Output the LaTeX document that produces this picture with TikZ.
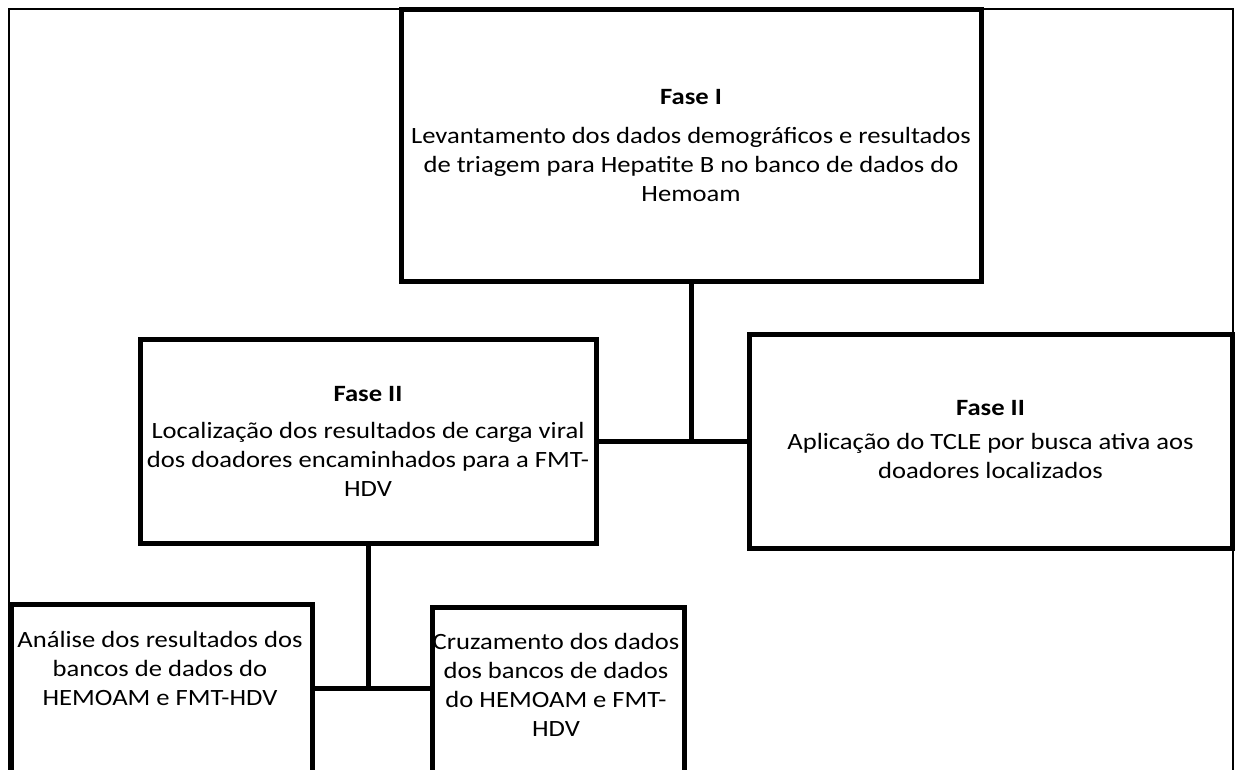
\documentclass[tikz,border=0pt]{standalone}
\usepackage{fontspec}
\setmainfont{Carlito}[FakeStretch=1.14]
\newcommand\diagfont{\fontsize{17.5}{21.75}\selectfont}
\begin{document}
\begin{tikzpicture}[x=0.75pt,y=-0.75pt,
  box/.style={draw=black, line width=3.75pt, fill=white, inner sep=0pt, align=center, font=\diagfont},
  txt/.style={inner sep=0pt, align=center, font=\diagfont},
  conn/.style={draw=black, line width=3.75pt},
  frame/.style={draw=black, line width=1.5pt}]
\useasboundingbox (0,0) rectangle (1235,770);
% outer frame
\draw[frame] (9,1000) -- (9,9) -- (1233,9) -- (1233,1000);
% boxes
\node[box, minimum width=435pt, minimum height=203.25pt] (top) at (691,145.5)
  {\textbf{Fase I}\\[7pt]Levantamento dos dados demográficos e resultados\\de triagem para Hepatite B no banco de dados do\\Hemoam};
\node[box, minimum width=342pt, minimum height=153pt] (left) at (368,441)
  {\textbf{Fase II}\\[6pt]Localização dos resultados de carga viral\\dos doadores encaminhados para a FMT-\\HDV};
\node[box, minimum width=362.25pt, minimum height=160.5pt] (right) at (990.5,441)
  {\raisebox{3pt}{\begin{tabular}{@{}c@{}}\textbf{Fase II}\\[4pt]Aplicação do TCLE por busca ativa aos\\doadores localizados\end{tabular}}};
\node[box, minimum width=225.75pt, minimum height=225pt, anchor=north west] (bl) at (9,602) {};
\node[box, minimum width=189pt, minimum height=225pt, anchor=north west] (br) at (430,605) {};
\node[txt] (blt) at (160,668) {Análise dos resultados dos\\bancos de dados do\\HEMOAM e FMT-HDV};
\node[txt] (brt) at (556,685) {Cruzamento dos dados\\dos bancos de dados\\do HEMOAM e FMT-\\HDV};
% connectors
\coordinate (j1) at (top.south |- right.west);
\draw[conn] (top.south) -- (j1);
\draw[conn] (left.east) -- (right.west);
\coordinate (j2) at (368,688);
\draw[conn] (left.south) -- (j2);
\draw[conn] (bl.east |- j2) -- (br.west |- j2);
\end{tikzpicture}
\end{document}
